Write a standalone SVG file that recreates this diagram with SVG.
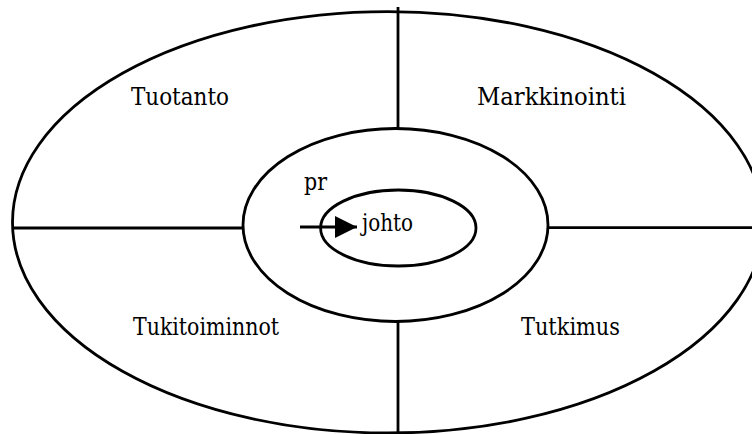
<svg xmlns="http://www.w3.org/2000/svg" width="752" height="434" viewBox="0 0 752 434">
<style>
.sh{fill:none;stroke:#000;stroke-width:2.8}
.ln{stroke:#000;stroke-width:2.8;fill:none}
.t{font-family:'DejaVu Serif','Liberation Serif',serif;font-size:24px;fill:#000}
</style>
<defs>
<marker id="ah" markerUnits="userSpaceOnUse" markerWidth="24" markerHeight="22" refX="22" refY="11" orient="auto">
<polygon points="0,0 22,11 0,22" fill="#000"/>
</marker>
</defs>
<rect width="752" height="434" fill="#fff"/>
<g id="outer"><ellipse class="sh" cx="388" cy="222.3" rx="375.5" ry="210.7"/></g>
<g id="middle"><ellipse class="sh" cx="395.5" cy="225" rx="152.5" ry="96.5"/></g>
<g id="inner"><ellipse class="sh" cx="398.3" cy="228" rx="77.7" ry="38"/></g>
<g id="connectors">
<line class="ln" x1="12" y1="228" x2="243" y2="228"/>
<line class="ln" x1="548" y1="227.7" x2="752" y2="227.7"/>
<line class="ln" x1="398" y1="7" x2="398" y2="128.5"/>
<line class="ln" x1="398" y1="321" x2="398" y2="434"/>
<line class="ln" x1="300" y1="227" x2="357" y2="227" marker-end="url(#ah)"/>
</g>
<g id="labels">
<text class="t" x="131" y="105" textLength="98" lengthAdjust="spacingAndGlyphs">Tuotanto</text>
<text class="t" x="477" y="105" textLength="149" lengthAdjust="spacingAndGlyphs">Markkinointi</text>
<text class="t" x="133" y="335" textLength="146" lengthAdjust="spacingAndGlyphs">Tukitoiminnot</text>
<text class="t" x="521" y="335" textLength="99" lengthAdjust="spacingAndGlyphs">Tutkimus</text>
<text class="t" x="304" y="190" textLength="23" lengthAdjust="spacingAndGlyphs">pr</text>
<text class="t" x="362" y="231" textLength="51" lengthAdjust="spacingAndGlyphs">johto</text>
</g>
</svg>
